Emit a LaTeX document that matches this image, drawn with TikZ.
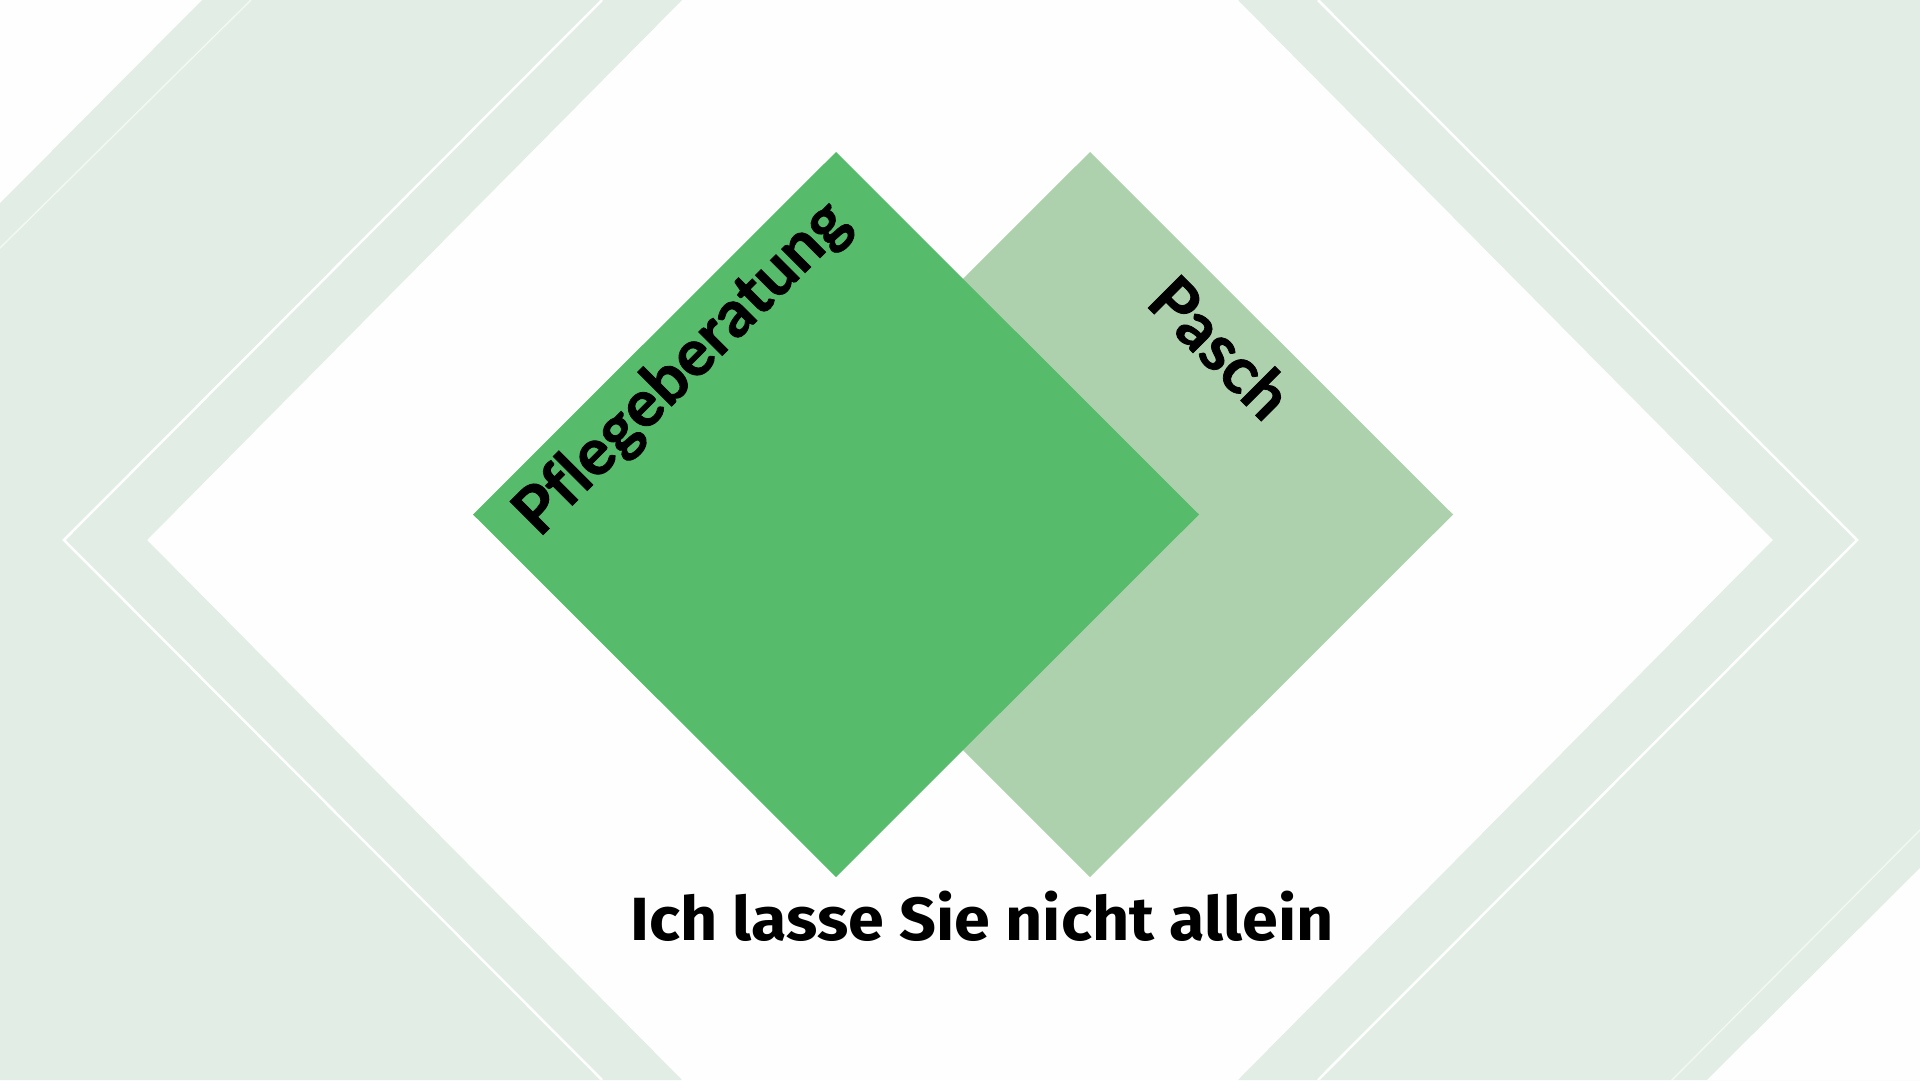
\documentclass[tikz,border=0pt]{standalone}
\usepackage{fontspec}
\setmainfont{Lato}
\newfontfamily\labelfont[Ligatures=NoCommon, BoldFeatures={FakeBold=1.2}]{Lato}
\newfontfamily\taglinefont[FakeStretch=1.06]{Fira Sans}
\definecolor{bglight}{HTML}{E2EDE5}
\definecolor{paper}{HTML}{FDFEFD}
\definecolor{darkgreen}{HTML}{57BB6C}
\definecolor{lightgreen}{HTML}{ADD1AD}
\tikzset{
  bgband/.style={fill=bglight},
  sepline/.style={draw=paper, line width=2.5pt},
  faintline/.style={draw=paper, opacity=0.6, line width=1.5pt},
  diamondlabel/.style={font=\labelfont\bfseries\fontsize{65}{72}\selectfont, text=black, inner sep=0pt},
}
\begin{document}
\begin{tikzpicture}[x=1pt,y=-1pt]
\useasboundingbox (0,0) rectangle (1920,1080);
\fill[paper] (0,0) rectangle (1920,1080);
% left background
\fill[bgband] (0,0) -- (682,0) -- (147,540) -- (682,1080) -- (0,1080) -- cycle;
\fill[paper] (0,0) -- (202,0) -- (0,203) -- cycle;
\path[sepline] (602,0) -- (64,540) -- (602,1080);
\path[faintline] (251,0) -- (0,248);
% right background
\fill[bgband] (1920,0) -- (1238,0) -- (1773,540) -- (1238,1080) -- (1920,1080) -- cycle;
\fill[paper] (1920,1080) -- (1707,1080) -- (1920,868) -- cycle;
\path[sepline] (1318,0) -- (1857,540) -- (1318,1080);
\path[faintline] (1672,1080) -- (1920,830);
% diamonds
\fill[lightgreen] (1090,152) -- (1453,514.5) -- (1090,877) -- (727,514.5) -- cycle;
\fill[darkgreen] (836,152) -- (1199,514.5) -- (836,877) -- (473,514.5) -- cycle;
% labels
\node[diamondlabel, rotate=45] (pflege) at (683,369) {Pflegeberatung};
\node[diamondlabel, rotate=-45] (pasch) at (1221,347) {Pasch};
\node[font=\taglinefont\bfseries\fontsize{61}{70}\selectfont, text=black, inner sep=0pt, anchor=base] (tagline) at (982,940) {Ich lasse Sie nicht allein};
\end{tikzpicture}
\end{document}
